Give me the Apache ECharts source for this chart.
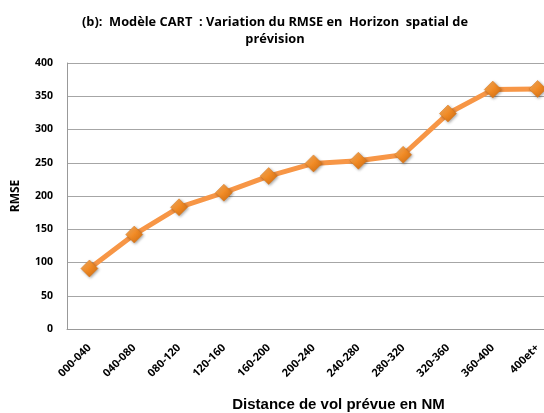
<!DOCTYPE html>
<html><head><meta charset="utf-8">
<script src="https://cdn.jsdelivr.net/npm/echarts@6/dist/echarts.min.js"></script>
<style>html,body{margin:0;padding:0;background:#fff}#c{width:544px;height:413px}</style>
</head><body><div id="c"></div>
<script>
const categories = ['000-040','040-080','080-120','120-160','160-200','200-240','240-280','280-320','320-360','360-400','400et+'];
const rmse = [91, 142, 183, 205, 230, 249, 253, 262, 324, 360, 361];
const yTicks = {min: 0, max: 400, interval: 50};

const chart = echarts.init(document.getElementById('c'), null, {renderer: 'canvas'});
chart.setOption({
  animation: false,
  backgroundColor: '#fff',
  title: {
    text: '(b):  Modèle CART  : Variation du RMSE en  Horizon  spatial de\nprévision',
    left: 270, top: 9, textAlign: 'center',
    textStyle: {fontFamily: 'Open Sans', fontWeight: 'bold', fontSize: 12.8, color: '#000', lineHeight: 17}
  },
  grid: {left: 67, width: 493, top: 63, height: 266, outerBoundsMode: 'none', containLabel: false},
  xAxis: {
    type: 'category', data: categories, boundaryGap: true,
    name: 'Distance de vol prévue en NM', nameLocation: 'middle', nameGap: 68,
    nameTextStyle: {fontFamily: 'Liberation Sans', fontWeight: 'bold', fontSize: 15, color: '#000', verticalAlign: 'top', padding: [0, 0, 0, 50]},
    axisLine: {lineStyle: {color: '#999', width: 1}},
    axisTick: {show: false},
    axisLabel: {rotate: 45, interval: 0, fontFamily: 'Open Sans', fontWeight: 'bold', fontSize: 11, color: '#000', margin: 17}
  },
  yAxis: {
    type: 'value', min: yTicks.min, max: yTicks.max, interval: yTicks.interval,
    name: 'RMSE', nameLocation: 'middle', nameGap: 45, nameRotate: 90,
    nameTextStyle: {fontFamily: 'Open Sans', fontWeight: 'bold', fontSize: 12, color: '#000'},
    axisLine: {show: true, lineStyle: {color: '#999', width: 1}},
    axisTick: {show: false},
    splitLine: {lineStyle: {color: '#a6a6a6', width: 1}},
    axisLabel: {fontFamily: 'Open Sans', fontWeight: 'bold', fontSize: 10.5, color: '#000', margin: 14}
  },
  series: [{
    type: 'line', data: rmse,
    lineStyle: {color: '#F79646', width: 5},
    symbol: 'diamond', symbolSize: 17,
    itemStyle: {
      color: new echarts.graphic.LinearGradient(0, 0, 1, 1, [
        {offset: 0, color: '#FBB66B'}, {offset: 0.5, color: '#F08A25'}, {offset: 1, color: '#C9680F'}
      ]),
      borderColor: '#D9761C', borderWidth: 0.5,
      shadowColor: 'rgba(0,0,0,0.35)', shadowBlur: 3, shadowOffsetX: 1, shadowOffsetY: 1
    }
  }]
});
</script></body></html>
